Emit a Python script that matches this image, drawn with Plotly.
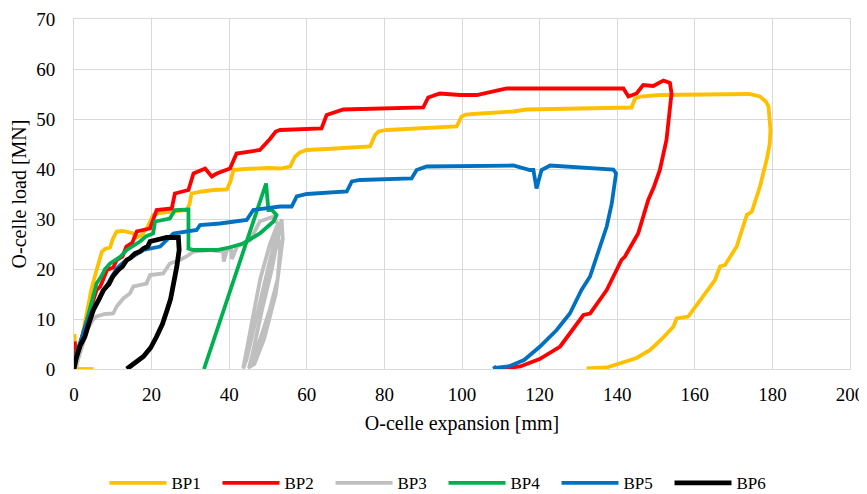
import plotly.graph_objects as go

# ---- data ----
BP1_x = [0.0, 0.15, 0.3, None, 1.0, 5.0, None,
         0.5, 1.5, 2.8, 4.5, 5.9, 7.2, 8.0, 9.3, 10.0, 11.0, 12.5, 15.0, 16.2, 17.5, 19.0, 20.4, 22.0,
         25.0, 29.0, 29.8, 30.3, 33.0, 36.0, 39.4, 40.3, 41.1, 44.0, 50.0, 53.1, 55.7, 57.0, 58.2,
         60.0, 65.0, 70.0, 76.3, 77.6, 78.5, 80.6, 90.0, 98.6, 99.9, 101.0, 102.9, 108.0, 113.2,
         116.6, 125.0, 130.4, 143.7, 144.6, 146.0, 151.0, 160.0, 170.8, 174.0, 176.8, 178.3, 179.0,
         179.5, 179.3, 178.5, 176.8, 174.7, 173.4, 170.8, 167.8, 166.5, 165.2, 162.2, 158.3, 155.3,
         154.5, 151.5, 148.5, 145.0, 142.4, 139.5, 137.3, 132.1]
BP1_y = [0.0, 7.0, 2.0, None, 0.0, 0.0, None,
         0.0, 4.0, 9.8, 16.0, 20.0, 23.5, 24.0, 24.3, 26.0, 27.5, 27.6, 27.2, 26.3, 26.8, 28.5, 30.8, 31.2,
         31.5, 31.8, 33.0, 35.1, 35.5, 35.8, 35.9, 37.5, 39.8, 40.0, 40.2, 40.1, 40.5, 42.5, 43.3,
         43.8, 44.0, 44.2, 44.5, 46.8, 47.5, 47.8, 48.1, 48.5, 50.5, 50.9, 51.0, 51.2, 51.5,
         51.9, 52.0, 52.2, 52.3, 54.1, 54.5, 54.8, 54.9, 55.1, 55.0, 54.5, 53.5, 52.5,
         47.8, 45.0, 41.8, 36.5, 31.5, 30.8, 24.5, 20.8, 20.5, 17.8, 14.5, 10.5, 10.1,
         8.5, 6.0, 3.8, 2.2, 1.5, 0.7, 0.3, 0.1]

BP2_x = [0.0, 0.2, 0.5, 1.5, 3.0, 4.5, 5.8, 6.8, 7.5, 8.5, 10.1, 11.0, 12.5, 13.5, 15.0, 16.2,
         19.6, 20.2, 21.3, 25.2, 26.0, 29.5, 30.8, 33.8, 35.5, 36.8, 40.2, 41.9, 47.9, 50.5,
         52.0, 53.1, 63.8, 65.1, 69.4, 90.0, 91.3, 94.3, 99.5, 103.8, 108.1, 111.5, 130.4,
         141.6, 142.9, 145.0, 146.7, 149.3, 151.9, 153.6, 154.0, 153.4, 152.7, 151.0, 149.5,
         148.0, 145.4, 142.0, 141.1, 137.3, 133.0, 131.3, 128.0, 125.3, 120.0, 115.0, 110.0, 108.0]
BP2_y = [0.0, 5.5, 2.0, 5.0, 9.0, 12.5, 15.8, 16.5, 18.0, 19.8, 20.3, 21.8, 22.5, 24.5, 25.2, 27.5,
         28.1, 29.5, 31.8, 32.1, 35.1, 35.8, 39.1, 40.1, 38.5, 39.1, 40.1, 43.1, 43.8, 46.0,
         47.5, 47.8, 48.1, 50.8, 51.9, 52.3, 54.3, 55.1, 54.8, 54.8, 55.5, 56.1, 56.1,
         56.1, 54.5, 55.1, 56.8, 56.6, 57.7, 57.2, 55.1, 50.0, 45.8, 39.8, 36.5,
         33.8, 27.1, 22.5, 21.8, 15.8, 11.1, 10.8, 7.5, 4.5, 2.0, 0.5, 0.1, 0.0]

BP3_x = [0.3, 0.7, 2.0, 3.5, 5.0, 5.8, 8.0, 10.1, 11.0, 12.7, 14.4, 15.3, 18.7, 19.6, 23.0, 24.7,
         27.3, 29.0, 30.8, 35.1, 38.4, 38.6, 39.4, 40.5, 40.7, 42.0, 45.4, 47.9, 51.4, 52.5, 50.5,
         48.0, 46.0, 44.5, 43.6, 44.5, 47.0, 49.5, 51.5, 52.2, 53.1, 52.5, 50.5, 48.0, 45.2,
         46.0, 48.5, 51.0, 52.8, 53.5, 53.8, 52.0, 49.0, 46.5, 44.8]
BP3_y = [0.0, 1.0, 4.5, 8.0, 10.0, 10.5, 11.0, 11.1, 12.5, 14.1, 15.1, 16.5, 17.1, 18.8, 19.1, 21.1,
         21.8, 22.5, 23.5, 23.8, 23.5, 21.5, 23.8, 24.0, 22.0, 24.5, 25.8, 29.5, 30.5, 29.0, 25.0,
         18.0, 10.0, 4.0, 0.1, 2.0, 10.0, 18.0, 25.0, 28.5, 23.8, 18.0, 12.0, 6.0, 0.5,
         3.0, 12.0, 20.0, 27.0, 30.0, 26.0, 15.0, 6.0, 1.0, 0.2]

BP4_x = [0.0, 0.5, 2.0, 3.5, 5.8, 7.0, 8.0, 9.3, 11.0, 12.0, 13.6, 15.0, 17.0, 18.5, 20.4, 20.9,
         24.7, 26.0, 29.5, 29.5, 30.8, 36.8, 40.0, 43.6, 47.9, 51.4, 52.2, 51.0, 50.1, 49.5, 33.5]
BP4_y = [0.0, 1.5, 5.5, 10.0, 17.1, 18.5, 20.0, 21.1, 22.0, 22.5, 23.8, 24.5, 25.5, 26.5, 27.1, 29.5,
         30.1, 31.8, 31.9, 24.1, 23.8, 23.8, 24.3, 25.1, 27.1, 29.5, 30.8, 31.8, 31.8, 37.1, 0.0]

BP5_x = [0.0, 0.3, 1.0, 2.5, 4.5, 6.7, 8.0, 9.5, 11.0, 13.0, 15.0, 17.9, 22.2, 23.9, 25.6, 31.6,
         32.5, 37.6, 44.5, 46.2, 53.1, 56.1, 57.4, 60.0, 70.3, 71.6, 73.7, 87.0, 88.3, 90.9,
         113.2, 117.5, 118.4, 119.2, 120.5, 122.7, 139.0, 139.7, 138.6, 137.3, 135.6, 133.0,
         130.8, 127.8, 124.4, 120.1, 116.0, 112.0, 108.5, 108.2]
BP5_y = [0.0, 2.0, 4.0, 7.5, 11.5, 14.5, 16.0, 18.0, 20.1, 21.5, 22.5, 23.8, 24.5, 25.8, 27.1, 27.8,
         28.8, 29.1, 29.8, 31.8, 32.5, 32.5, 34.5, 35.0, 35.5, 37.5, 37.8, 38.1, 39.8, 40.5,
         40.7, 39.8, 39.8, 36.1, 39.8, 40.7, 39.9, 39.1, 33.1, 28.5, 24.5, 18.5,
         15.8, 11.1, 7.8, 4.5, 1.8, 0.5, 0.2, 0.6]

BP6_x = [0.0, 0.5, 1.5, 2.8, 4.0, 5.0, 6.5, 7.6, 9.0, 10.0, 11.4, 12.5, 13.6, 14.5, 15.7, 17.0,
         17.9, 19.0, 19.6, 21.5, 23.9, 26.9, 27.1, 26.5, 25.6, 24.9, 24.0, 22.8, 21.3, 19.8,
         17.9, 15.5, 13.6]
BP6_y = [0.0, 2.0, 4.5, 6.5, 9.5, 11.8, 14.0, 15.8, 17.0, 18.5, 19.8, 20.5, 21.8, 22.2, 23.1, 23.5,
         24.1, 24.5, 25.5, 25.8, 26.3, 26.3, 23.8, 20.5, 17.1, 14.0, 11.8, 9.0, 6.5, 4.3,
         2.5, 1.0, 0.0]

series_names = ["BP1", "BP2", "BP3", "BP4", "BP5", "BP6"]
series_x = [BP1_x, BP2_x, BP3_x, BP4_x, BP5_x, BP6_x]
series_y = [BP1_y, BP2_y, BP3_y, BP4_y, BP5_y, BP6_y]
colors = ["#FFC000", "#FF0000", "#BFBFBF", "#00B050", "#0070C0", "#000000"]
widths = [3.8, 3.8, 3.8, 3.8, 3.8, 4.8]

x_ticks = list(range(0, 201, 20))
y_ticks = list(range(0, 71, 10))

FONT = "Liberation Serif"
fig = go.Figure()
for name, xs, ys, c, w in zip(series_names, series_x, series_y, colors, widths):
    fig.add_trace(go.Scatter(x=xs, y=ys, name=name, mode="lines",
                             line=dict(color=c, width=w), connectgaps=False))

grid = "#D9D9D9"
# the page body has an 8px default margin, so the figure is sized to end at the window edge
fig.update_layout(
    width=859, height=486,
    margin=dict(l=66, r=17, t=11, b=125, autoexpand=False),
    paper_bgcolor="white", plot_bgcolor="white",
    font=dict(family=FONT, size=17, color="#000000"),
    showlegend=True,
    legend=dict(orientation="h", xref="container", yref="container",
                x=0.507, xanchor="center", y=0.022, yanchor="middle",
                font=dict(family=FONT, size=17), entrywidth=41, entrywidthmode="pixels",
                itemwidth=57, tracegroupgap=0),
)
fig.update_xaxes(range=[0, 200], tickvals=x_ticks, showgrid=True, gridcolor=grid, gridwidth=1,
                 zeroline=False, showline=True, linecolor=grid, linewidth=1, mirror=True,
                 ticks="", automargin=False, ticklabelstandoff=8,
                 title=dict(text="O-celle expansion [mm]", standoff=12),
                 tickfont=dict(size=19))
fig.update_yaxes(range=[0, 70], tickvals=y_ticks, showgrid=True, gridcolor=grid, gridwidth=1,
                 zeroline=False, showline=True, linecolor=grid, linewidth=1, mirror=True,
                 ticks="", automargin=False, ticklabelstandoff=14,
                 title=dict(text="O-celle load [MN]", standoff=8),
                 tickfont=dict(size=19))

fig.write_html("out.html")
